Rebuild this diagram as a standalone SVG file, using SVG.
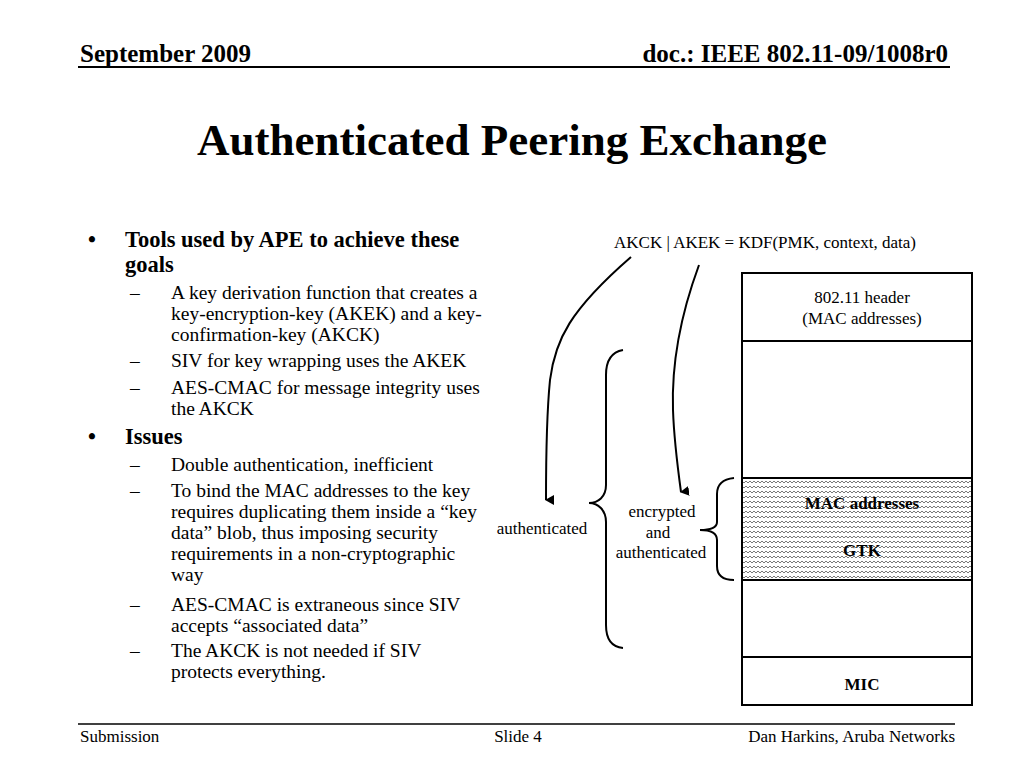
<svg xmlns="http://www.w3.org/2000/svg" width="1024" height="768" viewBox="0 0 1024 768">
<style>
text{font-family:"Liberation Serif","Times New Roman",serif;fill:#000}
.b{font-weight:bold}
.l1{font-size:22.5px;font-weight:bold}
.l2{font-size:19.5px}
.sm{font-size:17px}
.ln{stroke:#000;fill:none;stroke-width:2}
</style>
<defs>
<pattern id="zz" width="8" height="5" patternUnits="userSpaceOnUse">
<rect width="8" height="5" fill="#fff"/>
<path d="M0 3 L2 1 L4 3 L6 1 L8 3" stroke="#555" stroke-width="0.8" fill="none"/>
</pattern>
<marker id="ah" markerWidth="10" markerHeight="10" refX="5" refY="8" orient="auto" markerUnits="userSpaceOnUse" viewBox="0 0 10 10">
<path d="M0 0 L5 9 L10 0 Z" fill="#000"/>
</marker>
</defs>
<rect width="1024" height="768" fill="#fff"/>
<g id="header">
<text x="80" y="62" class="b" font-size="25">September 2009</text>
<text x="948" y="62" class="b" font-size="25" text-anchor="end">doc.: IEEE 802.11-09/1008r0</text>
<line x1="78" y1="67" x2="950" y2="67" stroke="#000" stroke-width="2"/>
<text x="512" y="155" class="b" font-size="45" text-anchor="middle">Authenticated Peering Exchange</text>
</g>
<g id="bullets">
<text x="88" y="247" class="l1">•</text>
<text x="125" y="247" class="l1">Tools used by APE to achieve these</text>
<text x="125" y="272" class="l1">goals</text>
<text x="130" y="299" class="l2">–</text>
<text x="171" y="299" class="l2">A key derivation function that creates a</text>
<text x="171" y="320" class="l2">key-encryption-key (AKEK) and a key-</text>
<text x="171" y="341" class="l2">confirmation-key (AKCK)</text>
<text x="130" y="367" class="l2">–</text>
<text x="171" y="367" class="l2">SIV for key wrapping uses the AKEK</text>
<text x="130" y="394" class="l2">–</text>
<text x="171" y="394" class="l2">AES-CMAC for message integrity uses</text>
<text x="171" y="415" class="l2">the AKCK</text>
<text x="88" y="444" class="l1">•</text>
<text x="125" y="444" class="l1">Issues</text>
<text x="130" y="471" class="l2">–</text>
<text x="171" y="471" class="l2">Double authentication, inefficient</text>
<text x="130" y="497" class="l2">–</text>
<text x="171" y="497" class="l2">To bind the MAC addresses to the key</text>
<text x="171" y="518" class="l2">requires duplicating them inside a “key</text>
<text x="171" y="539" class="l2">data” blob, thus imposing security</text>
<text x="171" y="560" class="l2">requirements in a non-cryptographic</text>
<text x="171" y="581" class="l2">way</text>
<text x="130" y="611" class="l2">–</text>
<text x="171" y="611" class="l2">AES-CMAC is extraneous since SIV</text>
<text x="171" y="632" class="l2">accepts “associated data”</text>
<text x="130" y="657" class="l2">–</text>
<text x="171" y="657" class="l2">The AKCK is not needed if SIV</text>
<text x="171" y="678" class="l2">protects everything.</text>
</g>
<g id="frame">
<rect x="742" y="273" width="230" height="432" fill="#fff" stroke="#000" stroke-width="2"/>
<line x1="742" y1="341" x2="972" y2="341" stroke="#000" stroke-width="2"/>
<rect x="742" y="478" width="230" height="102" fill="url(#zz)" stroke="#000" stroke-width="2"/>
<line x1="742" y1="657" x2="972" y2="657" stroke="#000" stroke-width="2"/>
<text x="862" y="303" class="sm" text-anchor="middle">802.11 header</text>
<text x="862" y="324" class="sm" text-anchor="middle">(MAC addresses)</text>
<text x="862" y="509" class="sm b" text-anchor="middle">MAC addresses</text>
<text x="862" y="556" class="sm b" text-anchor="middle">GTK</text>
<text x="862" y="690" class="sm b" text-anchor="middle">MIC</text>
</g>
<g id="labels">
<text x="765" y="248" class="sm" text-anchor="middle">AKCK | AKEK = KDF(PMK, context, data)</text>
<text x="542" y="534" class="sm" text-anchor="middle">authenticated</text>
<text x="662" y="517" class="sm" text-anchor="middle">encrypted</text>
<text x="658" y="538" class="sm" text-anchor="middle">and</text>
<text x="661" y="558" class="sm" text-anchor="middle">authenticated</text>
</g>
<g id="connectors">
<path class="ln" d="M631 257 C570 310 555 340 550 380 C546 420 546 460 546 500" marker-end="url(#ah)"/>
<path class="ln" d="M699 265 C675 330 672 380 673 410 C674 440 678 470 681 492" marker-end="url(#ah)"/>
<path class="ln" d="M623 350 C612 352 606 360 606 375 L606 485 C606 497 598 503 589 503 C598 503 606 510 606 522 L606 625 C606 640 612 647 623 648"/>
<path class="ln" d="M734 478 C724 479 717 484 717 494 L717 522 C717 528 710 530 700 530 C710 530 717 533 717 540 L717 566 C717 576 724 580 734 580"/>
</g>
<g id="footer">
<line x1="78" y1="724" x2="955" y2="724" stroke="#000" stroke-width="1.5"/>
<text x="80" y="742" font-size="17">Submission</text>
<text x="518" y="742" font-size="17" text-anchor="middle">Slide 4</text>
<text x="955" y="742" font-size="17" text-anchor="end">Dan Harkins, Aruba Networks</text>
</g>
</svg>
